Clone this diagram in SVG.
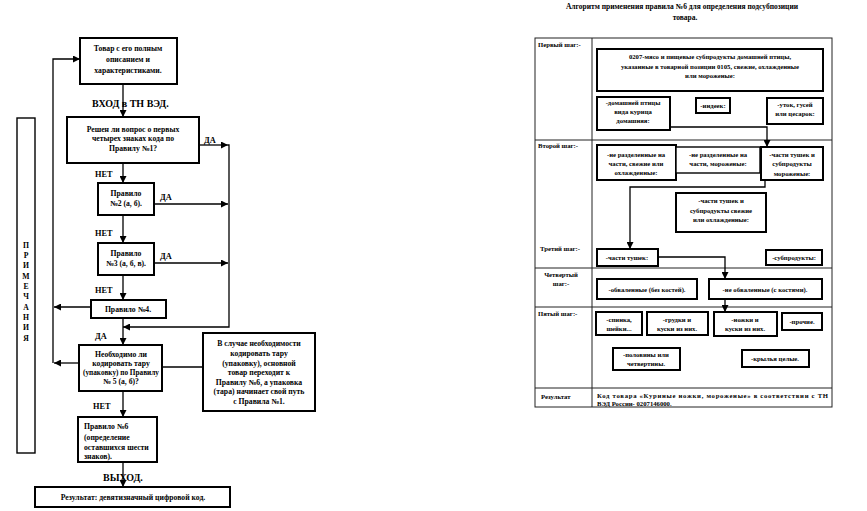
<svg xmlns="http://www.w3.org/2000/svg" width="867" height="511" viewBox="0 0 867 511">
<style>
text{font-family:"Liberation Serif","Times New Roman",serif;font-weight:bold;fill:#000}
.l{font-size:7.7px;text-anchor:middle}
.ll{font-size:7.7px}
.big{font-size:10px}
.lab{font-size:8.3px}
.r{font-size:6.7px;text-anchor:middle}
.rl{font-size:6.7px}
.t{font-size:7.5px;text-anchor:middle}
.box{fill:#fff;stroke:#000;stroke-width:2}
.thin{fill:#fff;stroke:#000;stroke-width:1.4}
.ln{fill:none;stroke:#000;stroke-width:1.3}
.grid{fill:none;stroke:#222;stroke-width:1}
</style>
<defs>
<marker id="ah" viewBox="0 0 10 10" refX="10" refY="5" markerWidth="7" markerHeight="7" markerUnits="userSpaceOnUse" orient="auto">
<path d="M0,0 L10,5 L0,10 z" fill="#000"/>
</marker>
</defs>
<rect width="867" height="511" fill="#fff"/>

<!-- LEFT FLOWCHART connectors -->
<g id="connectors-left" class="ln">
<line x1="123" y1="84" x2="123" y2="117" marker-end="url(#ah)"/>
<line x1="199" y1="145" x2="228" y2="145" marker-end="url(#ah)"/>
<line x1="123" y1="163" x2="123" y2="183" marker-end="url(#ah)"/>
<line x1="154" y1="204" x2="228" y2="204" marker-end="url(#ah)"/>
<line x1="123" y1="215" x2="123" y2="243" marker-end="url(#ah)"/>
<line x1="154" y1="263" x2="228" y2="263" marker-end="url(#ah)"/>
<line x1="123" y1="275" x2="123" y2="300" marker-end="url(#ah)"/>
<polyline points="228,145 229,145 229,327 123,327" marker-end="url(#ah)"/>
<line x1="91" y1="307" x2="54" y2="307" marker-end="url(#ah)"/>
<line x1="123" y1="318" x2="123" y2="345" marker-end="url(#ah)"/>
<line x1="79" y1="363" x2="54" y2="363" marker-end="url(#ah)"/>
<polyline points="53,363 53,59 80,59" marker-end="url(#ah)"/>
<line x1="162" y1="367" x2="203" y2="367"/>
<line x1="123" y1="391" x2="123" y2="417" marker-end="url(#ah)"/>
<line x1="123" y1="462" x2="123" y2="487" marker-end="url(#ah)"/>
</g>

<g id="node-notes">
<rect x="17" y="118" width="18" height="335" class="thin"/>
<text x="26" y="248" class="l">П</text>
<text x="26" y="258" class="l">Р</text>
<text x="26" y="268" class="l">И</text>
<text x="26" y="279" class="l">М</text>
<text x="26" y="289" class="l">Е</text>
<text x="26" y="299" class="l">Ч</text>
<text x="26" y="310" class="l">А</text>
<text x="26" y="320" class="l">Н</text>
<text x="26" y="330" class="l">И</text>
<text x="26" y="341" class="l">Я</text>
</g>

<g id="node-goods">
<rect x="80" y="38" width="97" height="46" class="box"/>
<text x="128" y="51" class="l">Товар с его полным</text>
<text x="128" y="62" class="l">описанием и</text>
<text x="128" y="73" class="l">характеристиками.</text>
</g>
<text x="92" y="107" class="big">ВХОД в ТН ВЭД.</text>

<g id="node-rule1">
<rect x="67" y="117" width="132" height="46" class="box"/>
<text x="133" y="132" class="l">Решен ли вопрос о первых</text>
<text x="133" y="141" class="l">четырех знаках кода по</text>
<text x="133" y="151" class="l">Правилу №1?</text>
</g>
<text x="204" y="143" class="lab">ДА</text>
<text x="95" y="177" class="lab">НЕТ</text>

<g id="node-rule2">
<rect x="98" y="183" width="56" height="32" class="box"/>
<text x="126" y="196" class="l">Правило</text>
<text x="126" y="206" class="l">№2 (а, б).</text>
</g>
<text x="160" y="200" class="lab">ДА</text>
<text x="95" y="236" class="lab">НЕТ</text>

<g id="node-rule3">
<rect x="98" y="243" width="56" height="32" class="box"/>
<text x="126" y="256" class="l">Правило</text>
<text x="126" y="266" class="l">№3 (а, б, в).</text>
</g>
<text x="160" y="259" class="lab">ДА</text>
<text x="95" y="293" class="lab">НЕТ</text>

<g id="node-rule4">
<rect x="91" y="300" width="75" height="18" class="box"/>
<text x="128" y="312" class="l">Правило №4.</text>
</g>
<text x="95" y="339" class="lab">ДА</text>

<g id="node-rule5">
<rect x="79" y="345" width="83" height="46" class="box"/>
<text x="121" y="357" class="l">Необходимо ли</text>
<text x="121" y="366" class="l">кодировать тару</text>
<text x="121" y="375" class="l" textLength="76" lengthAdjust="spacingAndGlyphs">(упаковку) по Правилу</text>
<text x="121" y="384" class="l">№ 5 (а, б)?</text>
</g>

<g id="node-note">
<rect x="203" y="333" width="112" height="78" class="box"/>
<text x="259" y="346" class="l">В случае необходимости</text>
<text x="259" y="356" class="l">кодировать тару</text>
<text x="259" y="366" class="l">(упаковку), основной</text>
<text x="259" y="375" class="l">товар переходит к</text>
<text x="259" y="385" class="l">Правилу №6, а упаковка</text>
<text x="259" y="394" class="l">(тара) начинает свой путь</text>
<text x="259" y="404" class="l">с Правила №1.</text>
</g>
<text x="93" y="409" class="lab">НЕТ</text>

<g id="node-rule6">
<rect x="78" y="417" width="79" height="45" class="box"/>
<text x="84" y="429" class="ll">Правило №6</text>
<text x="84" y="440" class="ll">(определение</text>
<text x="84" y="450" class="ll">оставшихся шести</text>
<text x="84" y="459" class="ll">знаков).</text>
</g>
<text x="103" y="481" class="big">ВЫХОД.</text>

<g id="node-result">
<rect x="35" y="487" width="195" height="20" class="box"/>
<text x="133" y="500" class="l">Результат: девятизначный цифровой код.</text>
</g>

<!-- RIGHT: table -->
<text x="682" y="9" class="t">Алгоритм применения правила №6 для определения подсубпозиции</text>
<text x="685" y="20" class="t">товара.</text>

<g id="table-grid" class="grid">
<rect x="535" y="38" width="297" height="369"/>
<line x1="592" y1="38" x2="592" y2="407"/>
<line x1="535" y1="140" x2="832" y2="140"/>
<line x1="535" y1="268" x2="832" y2="268"/>
<line x1="535" y1="307" x2="832" y2="307"/>
<line x1="535" y1="388" x2="832" y2="388"/>
</g>
<g id="row-labels">
<text x="538" y="47" class="rl">Первый шаг:-</text>
<text x="538" y="148" class="rl">Второй шаг:-</text>
<text x="540" y="251" class="rl">Третий шаг:-</text>
<text x="561" y="277" class="r">Четвертый</text>
<text x="561" y="286" class="r">шаг:-</text>
<text x="538" y="316" class="rl">Пятый шаг:-</text>
<text x="541" y="399" class="rl">Результат</text>
</g>
<text x="597" y="398" class="rl" textLength="231" lengthAdjust="spacing">Код товара «Куриные ножки, мороженые» в соответствии с ТН</text>
<text x="597" y="406" class="rl">ВЭД России- 0207146000.</text>

<g id="connectors-right" class="ln">
<polyline points="670,127 767,127 767,147" marker-end="url(#ah)"/>
<polyline points="765,180 765,187 630,187 630,249" marker-end="url(#ah)"/>
<polyline points="658,257 725,257 725,279" marker-end="url(#ah)"/>
<line x1="725" y1="299" x2="725" y2="312" marker-end="url(#ah)"/>
</g>

<g id="node-0207">
<rect x="597" y="49" width="226" height="42" class="box"/>
<text x="710" y="59" class="r">0207-мясо и пищевые субпродукты домашней птицы,</text>
<text x="710" y="69" class="r">указанные в товарной позиции 0105, свежие, охлажденные</text>
<text x="710" y="78" class="r">или мороженые:</text>
</g>
<g id="node-hen">
<rect x="597" y="97" width="73" height="33" class="box"/>
<text x="633" y="105" class="r">-домашней птицы</text>
<text x="633" y="114" class="r">вида курица</text>
<text x="633" y="123" class="r">домашняя:</text>
</g>
<g id="node-turkey">
<rect x="696" y="98" width="34" height="15" class="box"/>
<text x="713" y="108" class="r">-индеек:</text>
</g>
<g id="node-duck">
<rect x="767" y="98" width="56" height="26" class="box"/>
<text x="795" y="107" class="r">-уток, гусей</text>
<text x="795" y="116" class="r">или цесарок:</text>
</g>

<g id="node-whole-fresh">
<rect x="597" y="145" width="79" height="35" class="box"/>
<text x="636" y="157" class="r">-не разделенные на</text>
<text x="636" y="166" class="r">части, свежие или</text>
<text x="636" y="175" class="r">охлажденные:</text>
</g>
<g id="node-whole-frozen">
<rect x="676" y="147" width="84" height="26" class="thin"/>
<text x="718" y="157" class="r">-не разделенные на</text>
<text x="718" y="166" class="r">части, мороженые:</text>
</g>
<g id="node-parts-frozen">
<rect x="761" y="147" width="62" height="33" class="box"/>
<text x="792" y="157" class="r">-части тушек и</text>
<text x="792" y="166" class="r">субпродукты</text>
<text x="792" y="176" class="r">мороженые:</text>
</g>
<g id="node-parts-fresh">
<rect x="676" y="193" width="90" height="39" class="box"/>
<text x="721" y="203" class="r">-части тушек и</text>
<text x="721" y="213" class="r">субпродукты свежие</text>
<text x="721" y="222" class="r">или охлажденные:</text>
</g>

<g id="node-parts">
<rect x="597" y="249" width="61" height="17" class="box"/>
<text x="627" y="260" class="r">-части тушек:</text>
</g>
<g id="node-offal">
<rect x="766" y="250" width="56" height="15" class="box"/>
<text x="794" y="260" class="r">-субпродукты:</text>
</g>

<g id="node-boneless">
<rect x="597" y="279" width="100" height="20" class="box"/>
<text x="647" y="292" class="r">-обваленные (без костей).</text>
</g>
<g id="node-bone">
<rect x="709" y="279" width="113" height="20" class="box"/>
<text x="765" y="292" class="r">-не обваленные (с костями).</text>
</g>

<g id="node-backs">
<rect x="596" y="312" width="46" height="23" class="box"/>
<text x="619" y="322" class="r">-спинка,</text>
<text x="619" y="331" class="r">шейки...</text>
</g>
<g id="node-breasts">
<rect x="647" y="312" width="61" height="23" class="box"/>
<text x="677" y="322" class="r">-грудки и</text>
<text x="677" y="331" class="r">куски из них.</text>
</g>
<g id="node-legs">
<rect x="714" y="312" width="63" height="24" class="box"/>
<text x="745" y="322" class="r">-ножки и</text>
<text x="745" y="331" class="r">куски из них.</text>
</g>
<g id="node-other">
<rect x="782" y="313" width="40" height="17" class="box"/>
<text x="802" y="324" class="r">-прочие.</text>
</g>
<g id="node-halves">
<rect x="613" y="348" width="67" height="22" class="box"/>
<text x="646" y="357" class="r">-половины или</text>
<text x="646" y="366" class="r">четвертины.</text>
</g>
<g id="node-wings">
<rect x="742" y="350" width="67" height="17" class="box"/>
<text x="775" y="361" class="r">-крылья целые.</text>
</g>
</svg>
